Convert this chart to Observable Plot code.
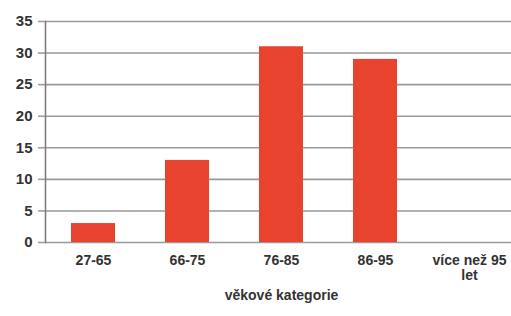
<!DOCTYPE html>
<html><head><meta charset="utf-8">
<script src="https://cdn.jsdelivr.net/npm/d3@7"></script>
<script src="https://cdn.jsdelivr.net/npm/@observablehq/plot@0.6"></script>
<style>
body{margin:0;background:#fff;}
svg{font-family:"Liberation Sans",Arial,sans-serif;}
</style>
</head><body><div id="chart"></div>
<script>
const categories = ["27-65", "66-75", "76-85", "86-95", "více než 95 let"];
const values = [3, 13, 31, 29, 0];
const yTicks = [0, 5, 10, 15, 20, 25, 30, 35];
const xTitle = "věkové kategorie";

const data = categories.map((c, i) => ({cat: c, v: values[i]}));

const chart = Plot.plot({
  width: 511,
  height: 316,
  marginLeft: 45,
  marginRight: 0,
  marginTop: 21,
  marginBottom: 74,
  style: {fontSize: "14px", fontWeight: "bold", color: "#333", background: "#fff"},
  x: {domain: categories, range: [45, 517.5], paddingInner: 0.53, paddingOuter: 0.265, label: null},
  y: {domain: [0, 35], label: null},
  marks: [
    Plot.gridY(yTicks, {stroke: "#999", strokeOpacity: 1, strokeWidth: 1.6}),
    Plot.barY(data, {x: "cat", y: "v", fill: "#e8432f"}),
    Plot.frame({anchor: "left", stroke: "#777", strokeWidth: 1.5}),
    Plot.axisY(yTicks, {tickSize: 7, tickPadding: 6, stroke: "#999", strokeWidth: 1.5, fontWeight: "bold", fontSize: 15, label: null}),
    Plot.axisX({tickSize: 0, tickPadding: 12, fontSize: 14, fontWeight: "bold", lineHeight: 1.05, label: null,
      tickFormat: d => d === "více než 95 let" ? "více než 95\nlet" : d}),
    Plot.text([xTitle], {frameAnchor: "bottom", dy: 57, dx: 3, fontSize: 14, fontWeight: "bold", fill: "#333"})
  ]
});
document.getElementById("chart").append(chart);
</script>
</body></html>
